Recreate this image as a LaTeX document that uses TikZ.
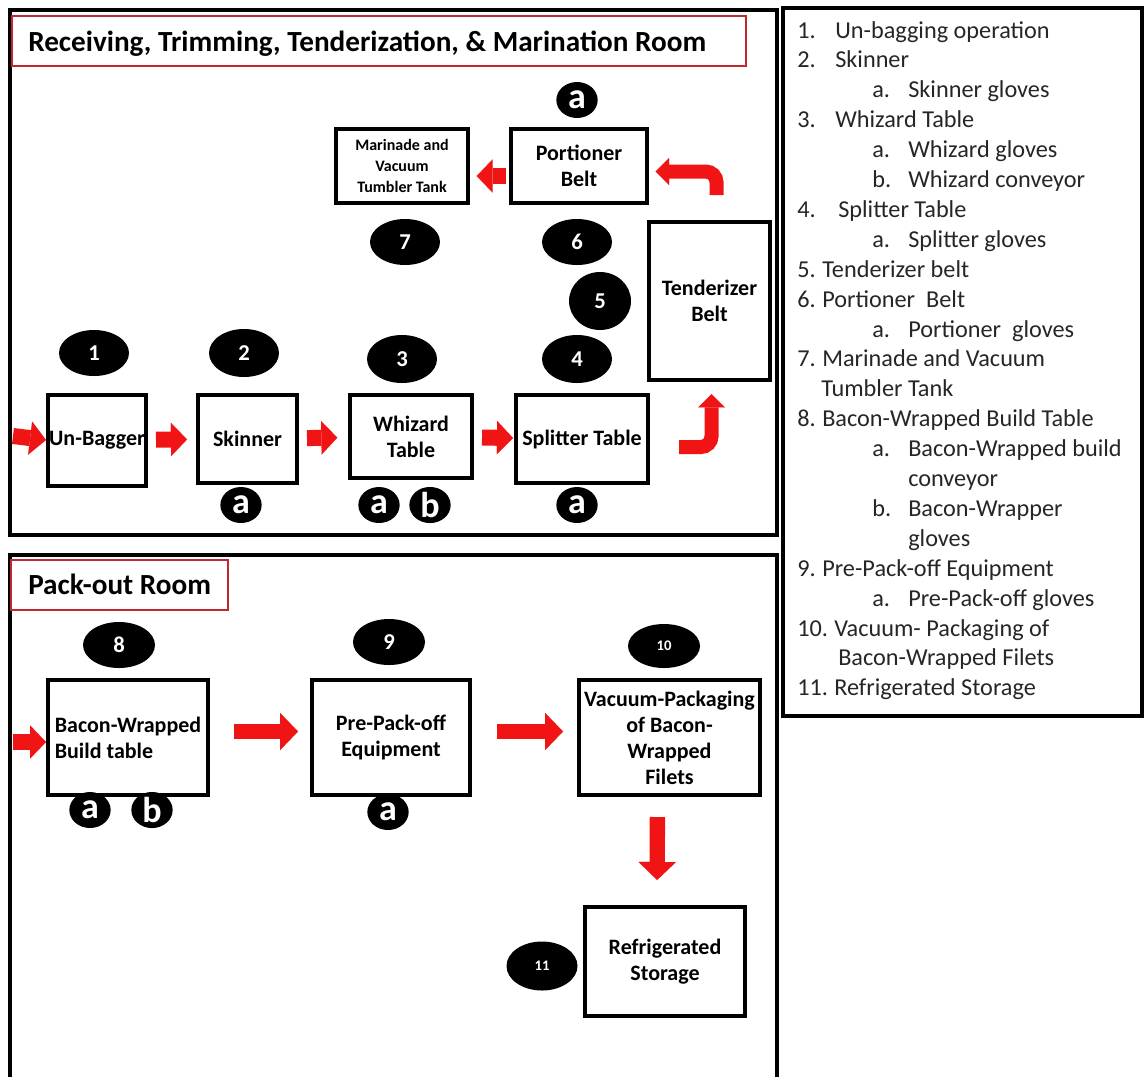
\documentclass[tikz,border=0pt]{standalone}
\usepackage{fontspec}
\setmainfont{Carlito}
\usepackage{xcolor}
\usetikzlibrary{arrows.meta, positioning, calc, shapes.geometric}
\definecolor{rojo}{HTML}{F01414}
\definecolor{granate}{HTML}{C0282D}
\definecolor{tinta}{HTML}{262626}
\tikzset{
  every picture/.style={x=0.75pt, y=-0.75pt},
  room/.style={draw=black, line width=3pt},
  roomtitle/.style={draw=granate, line width=1.5pt},
  equip/.style={draw=black, line width=3pt, inner sep=0pt, align=center,
                font=\bfseries\fontsize{16.5}{19.5}\selectfont},
  tag/.style={ellipse, fill=black, text=white, inner sep=0pt,
              minimum width=52.5pt, minimum height=34.5pt,
              font=\bfseries\fontsize{17}{18}\selectfont},
  subtag/.style={ellipse, fill=black, text=white, inner sep=0pt,
                 minimum width=31pt, minimum height=27pt,
                 font=\bfseries\fontsize{27}{27}\selectfont},
  redarrow/.style={rojo, line width=12pt,
                   -{Triangle[length=12pt, width=25pt, line width=0.01pt]}},
  bigarrow/.style={rojo, line width=11.5pt,
                   -{Triangle[length=13.5pt, width=28pt, line width=0.01pt]}},
  bentarrow/.style={rojo, line width=10.5pt, rounded corners=8pt,
                    -{Triangle[length=10pt, width=20pt, line width=0.01pt]}},
  legend/.style={anchor=base west, text=tinta, inner sep=0pt,
                 font=\fontsize{18.2}{20}\selectfont},
}
\begin{document}
\begin{tikzpicture}
  \useasboundingbox (0,0) rectangle (1144,1076);
  \fill[white] (0,0) rectangle (1144,1076);

  % rooms and legend frame
  \draw[room] (10,10) rectangle (777,535);
  \draw[room] (10,1080) -- (10,555) -- (777,555) -- (777,1080);
  \draw[room] (783,8) rectangle (1142,716);
  \draw[roomtitle] (12,16) rectangle (746,66);
  \draw[roomtitle] (11,560) rectangle (228,610);
  \node[anchor=base west, inner sep=0pt, font=\bfseries\fontsize{21.9}{24}\selectfont]
    (t1) at (28,51) {Receiving, Trimming, Tenderization, \& Marination Room};
  \node[anchor=base west, inner sep=0pt, font=\bfseries\fontsize{21.9}{24}\selectfont]
    (t2) at (28,594) {Pack-out Room};

  % receiving room
  \node[equip, minimum width=73.5pt, minimum height=68.25pt] (ub) at (97,440) {Un-Bagger};
  \node[equip, minimum width=74.25pt, minimum height=66pt] (sk) at (247.5,439) {Skinner};
  \node[equip, minimum width=91.5pt, minimum height=62.25pt] (wh) at (411,436.5) {Whizard\\Table};
  \node[equip, minimum width=99pt, minimum height=66pt] (sp) at (582,439) {Splitter Table};
  \node[equip, minimum width=90.75pt, minimum height=118.5pt] (te) at (709.5,301) {Tenderizer\\Belt};
  \node[equip, minimum width=102pt, minimum height=55.5pt] (pb) at (579,166) {Portioner\\Belt};
  \node[equip, minimum width=99pt, minimum height=55.5pt,
        font=\bfseries\fontsize{12}{15.5}\selectfont] (mv) at (402,166) {Marinade and\\Vacuum\\Tumbler Tank};

  \node[tag] (n1) at (94,353) {1};
  \node[tag, minimum height=36pt] (n2) at (244,353) {2};
  \node[tag, minimum height=36pt] (n3) at (402,359) {3};
  \node[tag, minimum height=36pt] (n4) at (577,359) {4};
  \node[tag, minimum width=46.5pt, minimum height=43.5pt] (n5) at (600,301) {5};
  \node[tag] (n6) at (577,242) {6};
  \node[tag] (n7) at (405,242) {7};

  \node[subtag] (pba) at (577,100) {a};
  \node[subtag] (ska) at (241,505) {a};
  \node[subtag] (wha) at (379,505) {a};
  \node[subtag] (whb) at (430,505) {b};
  \node[subtag] (spa) at (577,505) {a};

  \coordinate (in1) at (13,436);
  \draw[redarrow] (in1) -- (ub.west);
  \draw[redarrow, shorten <=6pt, shorten >=6.75pt] (ub) -- (sk);
  \draw[redarrow, shorten <=6pt, shorten >=8pt] (sk) -- (wh);
  \draw[redarrow, shorten <=6pt, shorten >=0.75pt] (wh) -- (sp);
  \draw[bentarrow, shorten >=9pt] ($(sp.east)+(29,8)$) -| ($(te.south)+(2,0)$);
  \draw[bentarrow, shorten >=5pt] ($(te.north)+(7,-25)$) |- ($(pb.east)+(0,5.5)$);
  \draw[redarrow, shorten <=2.25pt, shorten >=5pt] ($(pb.west)+(0,10)$) -- ($(mv.east)+(0,10)$);

  % pack-out room
  \node[equip, minimum width=120pt, minimum height=86.25pt, align=left] (bw) at (128,737.5) {Bacon-Wrapped\\Build table};
  \node[equip, minimum width=118.5pt, minimum height=86.25pt] (pp) at (391,737.5) {Pre-Pack-off\\Equipment};
  \node[equip, minimum width=135.75pt, minimum height=86.25pt] (vp) at (669.5,737.5) {Vacuum-Packaging\\of Bacon-\\Wrapped\\Filets};
  \node[equip, minimum width=120pt, minimum height=81.75pt] (rs) at (665,961.5) {Refrigerated\\Storage};

  \node[tag, minimum width=54pt] (n8) at (119,645) {8};
  \node[tag, minimum width=54pt] (n9) at (389,642) {9};
  \node[tag, minimum width=54pt, minimum height=33pt, font=\bfseries\fontsize{11}{12}\selectfont] (n10) at (664,646) {10};
  \node[tag, minimum width=53.25pt, minimum height=36.75pt, font=\bfseries\fontsize{11}{12}\selectfont] (n11) at (542,966) {11};

  \node[subtag] (bwa) at (90,810) {a};
  \node[subtag] (bwb) at (152,810) {b};
  \node[subtag] (ppa) at (388,812) {a};

  \coordinate (in2) at (13,742);
  \draw[redarrow] (in2) -- (in2 -| bw.west);
  \draw[bigarrow, shorten <=18pt, shorten >=9pt] ($(bw.east)+(0,-6)$) -- ($(pp.west)+(0,-6)$);
  \draw[bigarrow, shorten <=18.75pt, shorten >=10.5pt] ($(pp.east)+(0,-6)$) -- ($(vp.west)+(0,-6)$);
  \draw[bigarrow, shorten <=15pt, shorten >=18.75pt] ($(vp.south)+(-12,0)$) -- ($(rs.north)+(-8,0)$);

  % legend
  \foreach \nx/\num/\tx/\txt [count=\i] in {
      797/1./835/Un-bagging operation,
      797/2./835/Skinner,
      872/a./908/Skinner gloves,
      797/3./835/Whizard Table,
      872/a./908/Whizard gloves,
      872/b./908/Whizard conveyor,
      797/4./838/Splitter Table,
      872/a./908/Splitter gloves,
      797/5./822/Tenderizer belt,
      797/6./822/Portioner\ \ Belt,
      872/a./908/Portioner\ \ gloves,
      797/7./822/Marinade and Vacuum,
      797/{}/821/Tumbler Tank,
      797/8./822/Bacon-Wrapped Build Table,
      872/a./908/Bacon-Wrapped build,
      872/{}/908/conveyor,
      872/b./908/Bacon-Wrapper,
      872/{}/908/gloves,
      797/9./822/Pre-Pack-off Equipment,
      872/a./908/Pre-Pack-off gloves,
      797/10./834/Vacuum- Packaging of,
      797/{}/838/Bacon-Wrapped Filets,
      797/11./834/Refrigerated Storage} {
    \node[legend] (k\i) at (\nx, 38+\i*29.9-29.9) {\num};
    \node[legend] (l\i) at (\tx, 38+\i*29.9-29.9) {\txt};
  }
\end{tikzpicture}
\end{document}
